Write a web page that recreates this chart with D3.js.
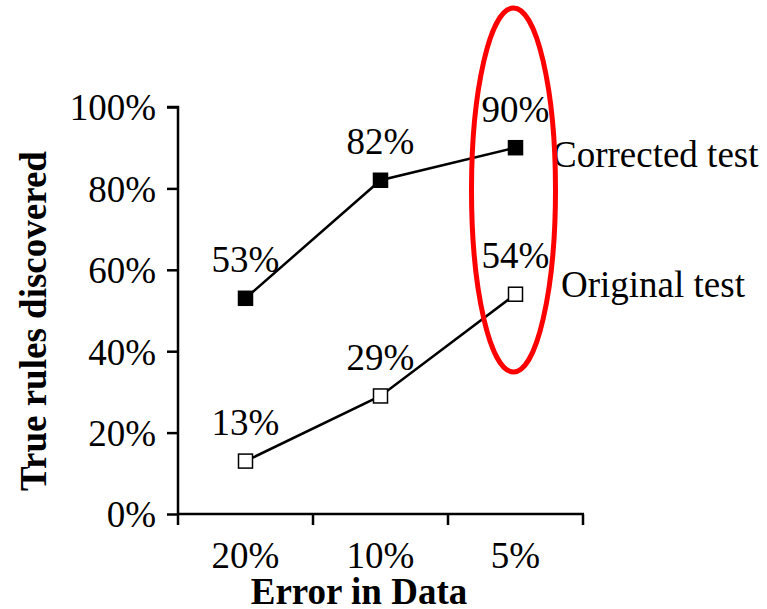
<!DOCTYPE html>
<html>
<head>
<meta charset="utf-8">
<script src="https://cdn.jsdelivr.net/npm/d3@7"></script>
<style>
  html, body { margin: 0; padding: 0; background: #fff; }
  svg { display: block; font-family: "Liberation Serif", "Times New Roman", serif; }
</style>
</head>
<body>
<svg id="chart" width="767" height="609"></svg>
<script>
// Error levels on the x axis
const categories = ["20%", "10%", "5%"];
// Share of true rules discovered, in percent
const correctedValues = [53, 82, 90];
const originalValues = [13, 29, 54];
const seriesNames = ["Corrected test", "Original test"];
const yTicks = [0, 20, 40, 60, 80, 100];

const FS = 37;
const svg = d3.select("#chart");
const plot = { left: 178, right: 583, top: 107, bottom: 514 };

const x = d3.scaleBand().domain(categories).range([plot.left, plot.right]).padding(0);
const y = d3.scaleLinear().domain([0, 100]).range([plot.bottom, plot.top]);
const cx = d => x(d) + x.bandwidth() / 2;

// Y axis
const yAxis = svg.append("g")
  .attr("transform", `translate(${plot.left},0)`)
  .call(d3.axisLeft(y).tickValues(yTicks).tickSize(11).tickPadding(11).tickFormat(d => d + "%"));
yAxis.select(".domain").attr("d", `M-11,${y(100)}H0V${y(0)}`);
yAxis.selectAll("path, line").attr("stroke", "#000").attr("stroke-width", 2.5);
yAxis.selectAll("text").attr("font-size", FS).attr("font-family", "Liberation Serif").attr("fill", "#000").attr("dy", "0.35em");

// X axis with tick marks at category boundaries
const xg = svg.append("g");
xg.append("line")
  .attr("x1", plot.left - 1).attr("x2", plot.right + 1)
  .attr("y1", plot.bottom).attr("y2", plot.bottom)
  .attr("stroke", "#000").attr("stroke-width", 2.5);
const boundaries = categories.map(c => x(c)).concat([x(categories[categories.length - 1]) + x.bandwidth()]);
xg.selectAll("line.tick").data(boundaries).join("line")
  .attr("class", "tick")
  .attr("x1", d => d).attr("x2", d => d)
  .attr("y1", plot.bottom).attr("y2", plot.bottom + 11)
  .attr("stroke", "#000").attr("stroke-width", 2.5);
xg.selectAll("text").data(categories).join("text")
  .attr("x", d => cx(d)).attr("y", 568)
  .attr("text-anchor", "middle").attr("font-size", FS).text(d => d);

// Axis titles
svg.append("text")
  .attr("x", 359).attr("y", 604)
  .attr("text-anchor", "middle").attr("font-size", FS).attr("font-weight", "bold")
  .text("Error in Data");
svg.append("text")
  .attr("transform", "translate(46,321) rotate(-90)")
  .attr("text-anchor", "middle").attr("font-size", FS).attr("font-weight", "bold")
  .text("True rules discovered");

const line = d3.line().x((d, i) => cx(categories[i])).y(d => y(d));

function drawSeries(values, fill) {
  svg.append("path").datum(values)
    .attr("d", line).attr("fill", "none").attr("stroke", "#000").attr("stroke-width", 2.5);
  const ms = 14;
  svg.append("g").selectAll("rect").data(values).join("rect")
    .attr("x", (d, i) => cx(categories[i]) - ms / 2)
    .attr("y", d => y(d) - ms / 2)
    .attr("width", ms).attr("height", ms)
    .attr("fill", fill).attr("stroke", "#000").attr("stroke-width", 1.5);
  svg.append("g").selectAll("text").data(values).join("text")
    .attr("x", (d, i) => cx(categories[i]))
    .attr("y", d => y(d) - 26)
    .attr("text-anchor", "middle").attr("font-size", FS)
    .text(d => d + "%");
}
drawSeries(correctedValues, "#000");
drawSeries(originalValues, "#fff");

// Series labels next to the last points
svg.append("text").attr("x", 552).attr("y", y(correctedValues[2]) + 19)
  .attr("font-size", FS).text(seriesNames[0]);
svg.append("text").attr("x", 561).attr("y", y(originalValues[2]) + 3)
  .attr("font-size", FS).text(seriesNames[1]);

// Highlight around the 5% column
svg.append("ellipse")
  .attr("cx", cx(categories[2]) - 2).attr("cy", 190)
  .attr("rx", 42).attr("ry", 182)
  .attr("fill", "none").attr("stroke", "#f00").attr("stroke-width", 5);
</script>
</body>
</html>
